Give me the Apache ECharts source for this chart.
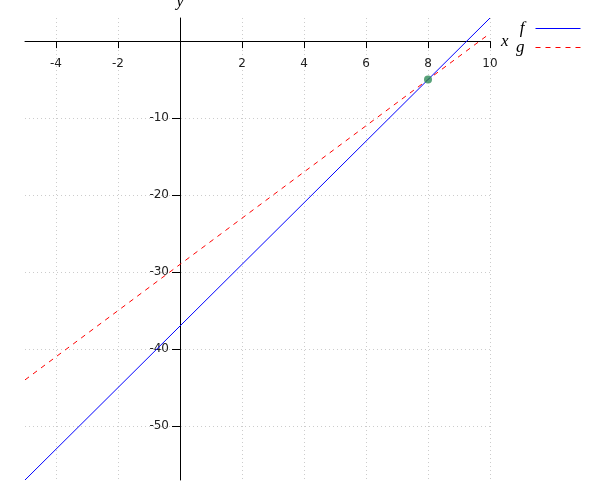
<!DOCTYPE html>
<html>
<head>
<meta charset="utf-8">
<script src="https://cdn.jsdelivr.net/npm/echarts@6/dist/echarts.min.js"></script>
<style>html,body{margin:0;padding:0;background:#fff;}#c{width:600px;height:500px;}</style>
</head>
<body>
<div id="c"></div>
<script>
var xValues = [-5, 10];
var fValues = [-57, 3];
var gValues = [-44, 1];
var pointX = [8];
var pointY = [-5];
var xTicks = [-4, -2, 2, 4, 6, 8, 10];
var yTicks = [-50, -40, -30, -20, -10];
var seriesNames = ['f', 'g'];

var W = 600, H = 500;
var gridBox = {left: 25, right: 110, top: 18, bottom: 20};
var chart = echarts.init(document.getElementById('c'), null, {renderer: 'canvas'});
var nameFont = {fontFamily: 'Liberation Serif', fontStyle: 'italic', fontSize: 17, color: '#000'};
var gridLine = {show: true, lineStyle: {color: '#cccccc', width: 1, type: [1, 3]}};
chart.setOption({
  animation: false,
  backgroundColor: '#fff',
  grid: {left: gridBox.left, right: gridBox.right, top: gridBox.top, bottom: gridBox.bottom, containLabel: false, outerBoundsMode: 'none'},
  legend: {
    orient: 'vertical', left: 511, top: 15, align: 'right', itemWidth: 45, itemHeight: 14, itemGap: 2,
    itemStyle: {opacity: 0},
    lineStyle: {width: 1},
    data: seriesNames,
    textStyle: Object.assign({padding: [0, 6, 0, 0]}, nameFont)
  },
  xAxis: {
    type: 'value', min: -5, max: 10,
    name: 'x', nameLocation: 'end', nameGap: 11, nameTextStyle: nameFont,
    axisLine: {onZero: false, lineStyle: {color: '#000', width: 1}},
    axisTick: {show: true, length: 7, customValues: xTicks, lineStyle: {color: '#000'}},
    axisLabel: {customValues: xTicks, margin: 17, fontFamily: 'DejaVu Sans', fontSize: 12, color: '#222'},
    splitLine: gridLine
  },
  yAxis: {
    type: 'value', min: -57, max: 3,
    name: 'y', nameLocation: 'end', nameGap: 8, nameTextStyle: nameFont,
    axisLine: {onZero: false, lineStyle: {color: '#000', width: 1}},
    axisTick: {show: true, length: 8, customValues: yTicks, lineStyle: {color: '#000'}},
    axisLabel: {customValues: yTicks, margin: 11, fontFamily: 'DejaVu Sans', fontSize: 12, color: '#222'},
    splitLine: gridLine
  },
  series: [
    {name: seriesNames[0], type: 'line', symbol: 'none', data: xValues.map(function(x, i){return [x, fValues[i]];}),
     lineStyle: {color: '#0000ff', width: 1}, itemStyle: {color: '#0000ff'}, z: 3},
    {name: seriesNames[1], type: 'line', symbol: 'none', data: xValues.map(function(x, i){return [x, gValues[i]];}),
     lineStyle: {color: '#ff0000', width: 1, type: [5, 5]}, itemStyle: {color: '#ff0000'}, z: 2},
    {type: 'scatter', symbolSize: 8, data: pointX.map(function(x, i){return [x, pointY[i]];}),
     itemStyle: {color: '#2e8b57'}, z: 4}
  ]
});
// Move the axes so they cross at the origin (data 0,0), labels and ticks included.
var origin = chart.convertToPixel({gridIndex: 0}, [0, 0]);
chart.setOption({
  xAxis: {offset: -((H - gridBox.bottom) - origin[1])},
  yAxis: {offset: -(origin[0] - gridBox.left)}
});
</script>
</body>
</html>
